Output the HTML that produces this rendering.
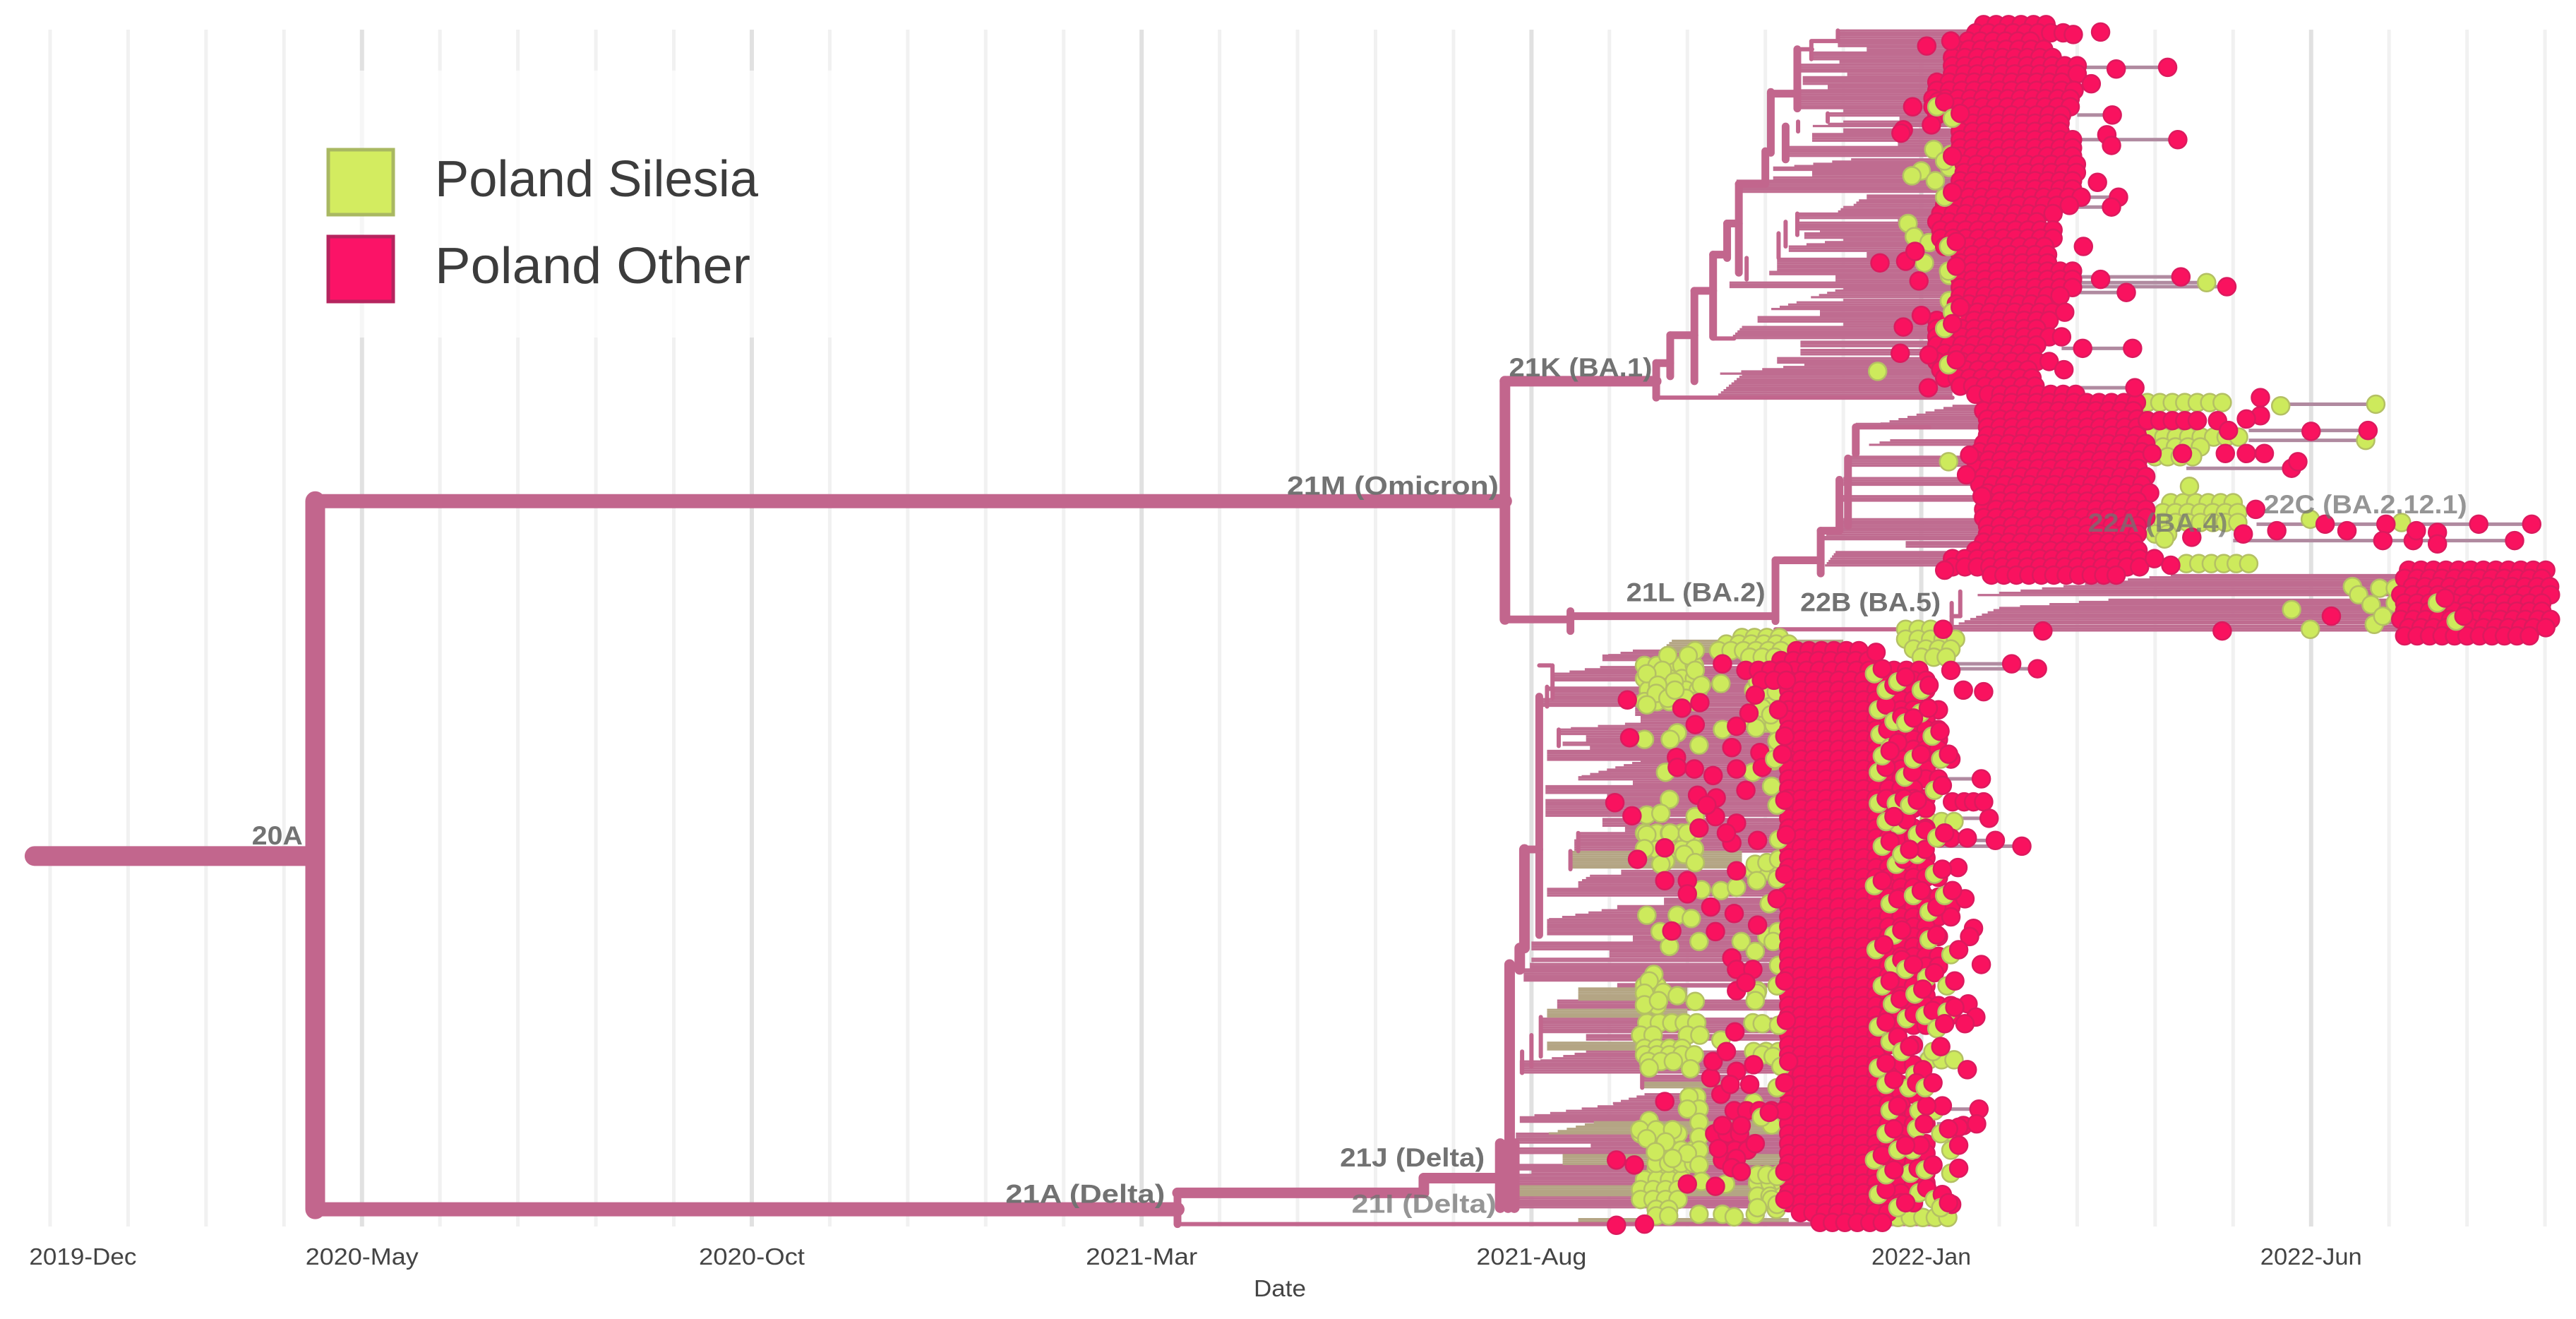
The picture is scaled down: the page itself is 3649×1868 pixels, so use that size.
<!DOCTYPE html>
<html lang="en">
<head>
<meta charset="utf-8">
<title>Time-scaled SARS-CoV-2 phylogeny, Poland</title>
<style>
html,body{margin:0;padding:0;background:#fff}
svg{display:block;font-family:"Liberation Sans",sans-serif}
</style>
</head>
<body>
<svg id="chart" xmlns="http://www.w3.org/2000/svg" width="3649" height="1868" viewBox="0 0 3649 1868"></svg>
<script>
// ---- Axis data: time is months since 2020-Jan, vertical position is tree rank ----
const gridMonths = [0,1,2,3,4,5,6,7,8,9,10,11,12,13,14,15,16,17,18,19,20,21,22,23,24,25,26,27,28,29,30,31,32];
const majorMonths = [4,9,14,19,24,29];
const tickMonths = [0.42,4,9,14,19,24,29];
const tickLabels = ["2019-Dec","2020-May","2020-Oct","2021-Mar","2021-Aug","2022-Jan","2022-Jun"];
const tickWidths = [152,160,150,158,156,141,144];

// ---- Branches: [tFrom, rankFrom, tTo, rankTo] ----
const heavyBranches = [[-0.2,521,3.4,521],[3.4,305,3.4,736]];
const majorBranches = [[3.4,305,18.66,305],[3.4,736,14.46,736]];
const midBranches = [
  [18.66,232,18.66,377],[18.66,232,20.6,232],[14.46,726,17.62,726],[17.62,717,17.62,726],[17.62,717,18.6,717],
  [18.91,517,18.91,577],[18.72,587,18.72,698],[18.85,577,18.85,590],
  [18.6,696,18.6,735],[18.78,696,18.78,735],[18.7,696,18.7,735]
];
const minorBranches = [
  [18.66,377,19.5,377],[19.5,372,19.5,384],[19.5,375,22.13,375],[22.13,341,22.13,378],[22.13,341,22.71,341],[22.71,323,22.71,349],
  [22.71,323,22.95,323],[22.95,292,22.95,323],[23.06,279,23.06,320],[23.16,260,23.16,276],
  [20.6,221,20.6,242],[20.6,221,20.78,221],[20.78,204,20.78,229],[20.78,204,21.09,204],[21.09,177,21.09,232],[21.09,177,21.33,177],
  [21.33,155,21.33,205],[21.33,155,21.51,155],[21.51,136,21.51,157],[21.51,136,21.66,136],[21.66,112,21.66,166],[21.66,112,22,112],
  [22,92,22,111],[22.07,56,22.07,93],[22.07,57,22.41,57],[22.41,30,22.41,66],[22.26,77,22.26,97],
  [19.1,424,19.1,569],[18.9,517,19.1,517],[14.46,726,14.46,745]
];
const twigBranches = [
  [14.46,745,24.2,745],[22.13,383,24.39,383],[24.39,367,24.39,385],[24.5,360,24.5,375],[24.39,375,24.5,375],
  [22.41,30,22.6,30],[22.59,25,22.59,36],[22.6,25,22.93,25],[22.93,18.6,22.93,25],[22.8,69,22.8,74],[22.42,74,22.42,80],
  [22.41,130,22.41,143],[22.26,135,22.26,150],[22.17,142,22.17,157],[21.76,157,21.76,170],[21.33,206,21.6,206],[20.6,242,24.4,242],
  [23.16,260,24.1,260],[19.1,405,19.25,405],[19.27,405,19.27,425],[19.12,619,19.12,643],[19,630,19,649],[18.88,640,18.88,653],
  [20.42,654,20.42,662],[19.2,418,19.2,430],[19.35,444,19.35,454],[19.6,507,19.6,518],[19.5,518,19.5,529]
];
const stubLines = [
  [41,26,27.16],[70,26,26.45],[85,26,27.29],[120,26,26.53],[126,26,26.44],[150,26,26.08],[168.5,25.9,27.33],[172,25.9,27.66],
  [174.5,25.9,27.92],[178,25.9,26.63],[212,25.8,26.71],[236,26,26.74],[246,28.61,29.83],[262,28.2,29.73],[268,28.2,29.7],
  [285,27.4,28.75],[319,28.3,31.83],[329,28,31.61],[404,24.4,25.16],[407,24.4,25.49],[474,24.3,24.77],[498,24.3,24.87],
  [511.5,24.2,24.95],[515,24.2,25.29],[675,24.2,24.74],[684,24.2,24.71]
];

// ---- Tip-line fans: [rankTop, rankBottom, tLeftAtTop, tLeftAtBottom, tRight] ----
const otherFans = [
  // 21K (BA.1)
  [18.6,28.7,22.93,22.93,24.7],[28.7,32,23.3,23.3,24.7],[32,36.5,22.6,22.6,24.7],[36.5,39.4,22.95,22.95,24.7],[39.4,43.7,22.45,22.45,24.7],[43.7,47,23.05,23.05,24.7],
  [47,52,22.48,22.48,24.5],[52,55,22.8,22.8,24.5],[55,66,22.41,22.41,24.5],[66,69,23,23,24.5],[69,71.6,22.8,22.8,24.5],[71.6,73.8,23.72,23.72,24.5],[74,78,23,22.42,24.5],
  [78.8,81.6,23,23,24.5],[81.6,86,22.6,22.6,24.5],[86,89.5,23.7,23.7,24.5],[89.5,96,22.3,22.25,24.5],[97,102,23.1,22.2,24.5],[102,104.6,22.1,22.1,24.5],[104.6,108,22.6,22.6,24.5],
  [108,110,22.1,22.1,24.5],[110,117.5,21.63,21.63,24.5],[119,122,23.3,23.3,24.5],[122,126,23.2,23.1,24.4],[126,130,23,22.9,24.4],[130,133,22.42,22.42,24.4],[134,135.5,23.7,23.7,24.4],
  [135.5,140,22.42,22.42,24.4],[140,142,22.7,22.7,24.4],[142,146,22.5,22.5,24.4],[146,150,23,22.3,24.4],[150,153,22.3,22.3,24.4],[154,157.5,23.3,23.3,24.4],[157.5,165,22.15,22.15,24.4],
  [165.5,167.5,22.05,22.05,24.4],[168,172,22.9,22.9,24.4],[172,175.5,21.54,21.54,24.4],[175.5,182,23,22.5,24.4],[182.5,184,23,23,24.4],[184,189,22.4,22,24.4],[189,193,22.7,22.7,24.4],
  [193,196,21.9,21.9,24.4],[196,199,23,23,24.4],[199,206,21.7,21.55,24.4],[208,212,22.45,22.45,24.4],[213,216,22.45,22.45,24.4],[218,221,22.15,22.15,24.4],[222,228,22.5,21.3,24.4],[228,242,21.7,21.35,24.4],
  // 21L (BA.2)
  [247,258,24.4,23.46,24.8],[258,262,23.16,23.16,24.8],[268,272,23.6,23.2,24.8],[278,284,23.06,23.06,24.8],[291,296,23,23,24.8],[302,305,22.95,22.95,24.8],
  [316,329,23,22.7,24.8],[330,333,23.8,23.8,24.8],[336,345,22.9,22.75,24.8],
  // 22B (BA.5)
  [350,363,27.2,24.55,30.16],[365,370,26.4,25,30.16],[370,380,25,24.45,30.16],[381,385,24.4,24.4,30.16],
  // Delta
  [396,399,20.3,19.95,22.3],[399,402.5,19.91,19.91,22.3],[402.5,405,20.4,20.4,22.3],[406,410,19.88,19.3,22.3],[410,415,19.27,19.27,22.3],[415,418.5,20.4,20.4,22.3],[418.5,421,19.2,19.2,22.3],
  [421,425.5,19.28,19.28,22.3],[425.5,430.5,19.06,19.06,22.3],[431,435.5,20.33,20.33,22.3],[435.5,440,20.4,20.4,22.3],[440.5,444,20.2,19.3,22.3],[444,447,19.35,19.35,22.3],[447,452,19.7,19.7,22.3],
  [452,454.5,19.4,19.4,22.3],[454.5,457,19.75,19.75,22.3],[457,463,19.2,19.2,22.3],[463,473,20.4,19.6,22.3],[473,474.5,19.6,19.6,22.3],[474.5,478.5,20.3,20.3,22.3],[478.5,483,19.18,19.18,22.3],
  [483,487,19.97,19.97,22.3],[487,497,19.18,19.18,22.3],[498.5,503,19.91,19.91,22.3],[503,507,20.2,20.2,22.3],[507,511.5,19.6,19.6,22.3],[511.5,518.5,19.55,19.55,22.3],
  [530,533,20.15,20.15,22.3],[533,537,19.75,19.6,22.3],[537,541,19.6,19.6,22.3],[541,546,19.2,19.2,22.3],[547,551.5,20.7,20.7,22.3],[551.5,554,20.1,20.1,22.3],[554,560,19.9,19.15,22.3],
  [560,564.5,19.2,19.2,22.3],[564.5,569.5,19.2,19.2,22.3],[570,573,20.3,20.3,22.3],[573.7,578,19,19,22.3],[578,583,20,20,22.3],[583.5,586,19,19,22.3],[586.7,589.5,18.98,18.98,22.3],
  [590,597,18.9,18.9,22.3],[599,601.6,20.1,20.1,22.3],[609,614.6,19.33,19.33,22.3],[620,629,19.1,19.1,22.3],[630,634,19.7,19.7,22.3],[640,646,19.7,19.05,22.3],[646,653,18.85,18.85,22.3],
  [654.7,659,20.42,20.42,21.6],[662.5,666,20.95,20.95,22.3],[666,672,20.45,20,22.3],[672,680,20.05,18.85,22.3],[680,683,18.85,18.85,22.3],[690,695.5,18.8,18.8,22.3],[695.5,699,19.76,19.76,22.3],
  [699,703,18.8,18.8,22.3],[709,712.7,18.8,18.8,22.3],[713,715,19,19,22.3],[715,722,18.8,18.8,22.3],[728,735,18.8,18.8,22.3]
];
const silesiaFans = [
  [390,398,20.8,20.6,23],[518.5,528.6,19.5,19.5,21.7],[601.6,609,19.6,19.6,21],[614.6,620,19.2,19.2,21],[634.6,640,19.2,19.2,21],[659,662,20.42,20.42,21.5],
  [683,690,19.8,19.2,22.3],[703,709,19.4,19.4,22.3],[722,728,18.8,18.8,22.3],[742,745,19.6,19.6,22.3]
];

// ---- Tips: dense stretches as [rank, tFrom, tTo], sparse tips as [t, rank] ----
const otherTipRows = [
  // 21K (BA.1)
  [15,24.8,25.7],[20,24.7,25.9],[25,24.6,25.5],[30,24.45,25.7],[35,24.4,25.8],[40,24.4,26],[45,24.4,26.05],[50,24.2,25.95],[55,24.2,26],[60,24.15,25.95],
  [65,24.15,26],[70,24.2,25.95],[75,24.5,25.85],[80,24.5,25.85],[85,24.5,26],[90,24.5,26],[95,24.5,26],[100,24.55,26.05],[105,24.55,26.05],[110,24.5,26.05],
  [115,24.5,26.05],[120,24.45,26.05],[125,24.3,26],[130,24.25,25.7],[135,24.2,25.6],[140,24.25,25.7],[145,24.25,25.7],[150,24.3,25.6],[155,24.5,25.75],[160,24.5,25.7],
  [165,24.5,25.95],[170,24.5,25.95],[175,24.5,25.95],[180,24.5,25.9],[185,24.45,25.6],[190,24.4,25.9],[195,24.2,25.7],[200,24.2,25.5],[205,24.2,25.8],[210,24.2,25.6],
  [215,24.3,25.45],[220,24.2,25.7],[225,24.25,25.4],[230,24.3,25.5],[235,24.5,25.6],[240,24.7,26],
  // 21L (BA.2)
  [245,25,26.88],[250,24.8,26.85],[255,24.85,26.9],[260,24.85,26.9],[265,24.85,26.88],[270,24.8,26.88],[275,24.75,26.88],[280,24.7,26.9],[285,24.7,26.85],[290,24.8,26.9],
  [295,24.75,26.9],[300,24.85,27.05],[305,24.85,26.9],[310,24.8,26.95],[315,24.8,27],[320,24.85,26.9],[325,24.85,26.85],[330,24.8,26.8],[335,24.7,26.85],[340,24.4,26.9],[345,24.4,26.85],[350,24.9,26.6],
  [256,26.9,27.6],
  // 22B (BA.5)
  [347,30.25,32.1],[352,30.2,32.1],[357,30.3,32.1],[362,30.15,32.1],[367,30.2,32.1],[372,30.2,32.1],[377,30.15,32.1],[382,30.25,32.05],[387,30.2,31.95],
  // Delta centre and right flank
  [396,22.4,23.3],[402,22.2,23.45],[408,22.05,24],[414,22.3,24.1],[420,22.3,24.2],[426,22.3,23.9],[432,22.3,24.3],[438,22.3,24.2],[444,22.3,24.3],[450,22.3,24.35],
  [456,22.3,24.35],[462,22.3,24.4],[468,22.3,24.2],[474,22.3,24.3],[480,22.3,23.95],[486,22.3,24.15],[492,22.3,24.2],[498,22.3,23.8],[504,22.3,24.1],[510,22.3,24.4],
  [516,22.3,23.7],[522,22.3,24.2],[528,22.3,24.1],[534,22.3,24.25],[540,22.3,23.95],[546,22.3,24.35],[552,22.3,24.4],[558,22.3,24.4],[564,22.3,24.15],[570,22.3,24.3],
  [576,22.3,24.15],[582,22.3,24.3],[588,22.3,24.35],[594,22.3,23.9],[600,22.3,24.1],[606,22.3,24.15],[612,22.3,24.5],[618,22.3,24.45],[624,22.3,24.1],[630,22.3,23.7],
  [636,22.3,24],[642,22.3,23.5],[648,22.3,24],[654,22.3,23.7],[660,22.3,24],[666,22.3,24.05],[672,22.3,23.8],[678,22.3,24.2],[684,22.3,24.1],[690,22.3,23.8],
  [696,22.3,24.15],[702,22.3,24.2],[708,22.3,23.9],[714,22.3,24.1],[720,22.3,24.1],[726,22.3,23.8],[732,22.3,24],[738,22.45,23.7],[744,22.7,23.6],
  // Delta middle-column runs
  [408,21.75,22.3],[414,21.95,22.3],[676,21.6,22.3],[690,21.35,21.75],[700,21.45,21.9],[706,21.45,21.75]
];
const otherTips = [
  // 21K (BA.1)
  [24.07,28],[24.38,25],[23.89,65],[23.77,79],[23.74,81],[24.22,61.6],[24.13,76],[23.47,160],[23.8,159],[23.92,153],[23.97,171],[24,192],[23.77,199],[23.73,215],[24.1,216],
  [26.3,19.5],[25.95,21],[27.16,41],[26.5,42],[26.18,51],[26.45,70],[26.38,82],[26.44,88.5],[27.29,85],[26.26,111],[26.53,120],[26.44,126],[26.08,150],[26.3,170],
  [27.33,168.5],[26.63,178],[27.92,174.5],[26.07,212],[26.71,212],[25.83,225],[26.74,236],[24.09,236],
  // 21L (BA.2)
  [28.35,242],[28.35,253],[27.8,256],[28.17,255],[27.94,262],[29,262.5],[29.73,262],[27.35,276],[27.9,276],[28.17,276],[28.4,276],[26.96,276],[28.75,285],[28.83,281],[28.29,310],
  [28.56,323],[29.18,319],[29.46,323],[29.96,319],[29.92,329],[30.31,329],[30.62,324],[30.35,323],[30.62,331],[31.15,319],[31.83,319],[31.61,329],[28.13,325],[27.47,327],[26.99,340],[27.2,344],
  [24.58,289],[24.62,277],[24.78,302],[24.3,347],
  // 22B (BA.5)
  [25.56,384],[27.86,384],[29.26,375],
  // Delta
  [20.23,426],[20.26,449],[20.07,488.5],[20.29,496.5],[20.71,516],[20.36,523],[21.1,441],[21.45,404],[21.16,427.6],[20.93,431],[20.86,461],[20.87,467],[21.09,468],[21.33,472],
  [21.63,442],[21.57,455],[21.63,468],[21.87,423],[21.79,434],[21.93,458],[21.96,467],[21.13,484],[21.37,485.6],[21.36,497],[21.75,481],[21.63,501],[21.15,504],[21.57,513],[21.9,511.5],
  [21.63,530],[20.71,536],[21,536],[21,544],[21.3,552],[21.6,556],[21.9,563],[20.8,566.6],[21.36,567],[21.57,583],[21.63,590],[21.84,590],[21.63,603],[21.75,598],[21.25,490],[21.5,507],
  [20.71,670.4],[21.43,666],[21.61,628],[21.3,656],[21.33,646],[21.63,652],[21.5,640],[21.85,648],[21.4,699],[21.63,705],[21.87,696],[21.57,710.6],[21.69,713],[21.45,685],[21.69,685],
  [20.09,706],[20.32,709],[20.09,745.7],[20.45,745],[21,720.6],[21.36,722],[21.55,660],[21.8,660],
  [23.42,397],[24.28,383],[25.16,404],[25.49,407],[24.38,408],[24.54,420],[24.8,421],[24.77,474],[24.4,488],[24.55,488],[24.67,488],[24.8,488],[24.87,498],[24.95,511.5],[25.29,515],
  [24.59,510],[24.47,528],[24.56,547],[24.67,565],[24.62,570],[24.77,587],[24.6,611],[24.7,619],[24.56,623],[24.59,651],[24.74,675],[24.54,685],[24.71,684],[24.39,733]
];
const silesiaTipRows = [
  [245,26.9,28],[266,26.95,28.2],[272,27.1,27.6],[278,27,27.6],[306,27.2,28.1],[312,27.1,28.1],[318,27.1,28.1],[325,27,27.3],[343,27.4,28.3],
  [388,21.7,22.3],[392,21.5,22.3],[396,21.4,22.3],[400,21.8,22.2],[383,23.8,24.4],[389,23.8,24.5],[395,23.9,24.4],[400,24,24.4],[500,24.1,24.5],[645,24.1,24.5],[741,23.7,24.35],
  [622.5,20.48,21.2],[630,20.4,20.7],[630,21,21.2],[638,20.45,21],[642,20.45,21.2],[646,20.5,20.9],[712,20.6,21],[718,20.45,21],[724,20.4,20.95],[730,20.4,20.95],[736,20.6,20.85],[740,20.6,20.85],
  [405,20.45,21.1],[413,20.45,21.2],[420,20.5,21.2],[427,20.45,21.1],[507,20.45,21.1],[517,20.45,21.15],[600,20.45,20.7],[612,20.45,20.7],[690,20.4,20.9],[700,20.6,21.2],[708,20.6,21.2],
  [420,21.85,22.2],[430,21.9,22.2],[440,21.85,22.2],[530,21.85,22.2],[640,21.85,22.2],[720,21.9,22.25],[728,21.9,22.25]
];
const silesiaTips = [
  // 21K, 21L, 22B outliers
  [24.16,91],[24,104],[23.88,107],[24.18,110],[24.44,69],[23.83,136],[23.91,144],[24.1,147.6],[24.04,160],[24.36,167.6],[24.36,183],[24.34,208],[23.44,226],[24.44,132],[24.38,94],[24.36,102],[27.66,172],
  [28.61,247],[29.83,246],[29.7,268],[27.44,296],[27.12,328],[28.99,316],[30.16,318],[24.35,281],
  [28.75,371],[28.99,383],[29.53,357],[29.61,362],[29.88,358],[30.08,358],[29.77,368],[30.08,367],[29.81,380],[29.92,375],
  // Delta, upper
  [20.75,399],[21.1,396],[21.01,399],[20.68,408],[20.48,410],[21.1,408],[20.83,415],[20.62,417],[21.18,417],[21.43,416],[20.6,422],[20.75,425],[20.98,425],[20.48,429],[20.84,420],
  [21.9,415],[22.14,421],[21.96,431],[22.11,441],[21.88,443],[21.45,444],[20.87,446],[20.78,450],[20.45,450],[21.15,453.5],[20.72,470],
  [20.77,486.5],[20.48,496],[20.66,495],[21.1,497],[20.48,508],[20.78,507],[21,507],[20.45,516.5],[21.09,516.5],[20.96,520],[20.72,524],[21.1,525],[20.66,526],[21.18,541.5],[21.43,542],[21.63,540],
  [21.87,526],[22.02,525],[22.17,523],[21.89,536],[22.11,463],[21.84,470],[22.08,478.5],[22.14,458.5],
  [20.48,557],[20.87,557],[21.05,559],[20.65,567],[20.77,576],[21.15,573],[21.69,573],[21.87,579],[22.02,570],[22.16,567],[22.17,587.5],[21.9,603],[22.1,573],
  // Delta, lower
  [20.57,593],[20.51,597],[20.69,604],[20.87,606],[21.1,609.5],[20.45,604.5],[20.45,611.5],[20.63,609],[20.51,650],[21.04,650.5],[21.43,633],[21.12,667.6],[21.02,667.6],[21.15,675],[21,675],
  [21.85,671],[22.05,677.6],[22.08,684.7],[21.84,622.5],[21.96,623],[21.89,604.5],[21.87,609],[21.96,642],[22.1,643],[20.51,682],[20.39,687.6],[20.6,687.6],[20.81,687.6],[20.48,693],[20.72,695],
  [21.15,683],[21.15,692],[21.15,700],[21,702],[20.59,701],[20.81,705],[21.15,709],[21.18,719],[21.49,720.6],[21.15,739],[21.45,739],[21.6,740.6],[21.87,739],[21.9,715],[22.02,715],[22.17,715],
  [22.08,730],[21.9,735],[22.14,736],[24.38,714],[24.2,626]
];
// tips of Silesia partly hidden behind a later Poland Other tip: [t, rank]
const partlyHiddenTips = [
  [23.45,432],[23.47,447],[23.65,439],[23.45,470],[23.79,473],[24.17,481],[23.45,489],[23.68,489],[24.14,448],[23.99,434],[23.71,502],[23.95,508],[23.68,526],[23.95,520],[24.17,532],
  [23.4,539],[23.65,569],[23.42,578],[23.65,587],[24.1,572],[24.38,581],[24.07,595],[24.33,600],[23.63,611],[23.92,605],[23.81,620],[24.05,618],[24.33,616],[24.2,626],[23.6,634],
  [23.92,654],[23.84,662],[24.17,676],[23.97,676],[23.6,676],[23.94,687],[24.38,689],[23.4,706],[23.89,700],[24.38,700],[23.86,714],[24.38,714],[23.45,727],[23.97,726],[24.17,730],
  [23.55,420],[23.8,440],[23.9,462],[23.6,455],[23.55,500],[23.85,490],[23.5,515],[23.6,550],[23.9,545],[24.1,555],[23.5,600],[23.8,590],[23.75,640],[23.55,660],[23.7,700],[23.55,715],[24.05,712],[23.7,735],
  [23.4,410],[23.7,415],[24,420],[23.5,460],[24.25,462],[23.75,520],[24.2,510],[24.3,545],[23.45,625],[24.15,640],[23.45,650],[24.05,662],[24.25,690],[23.55,690],[24.25,735],
  [22.07,435],[22.15,451],[22.12,462],[22.15,490],[22.17,511],[22.15,535],[22.05,550],[22.15,600],[22.17,624],[22.2,649],[22.15,662],[22.15,716],[21.95,680],[22.15,733],
  [30.62,367],[30.86,378],[24.2,65],[24.4,72],[24.3,98],[24.3,120],[24.35,150],[24.35,165],[24.4,190],[24.3,200],[24.35,222]
];

const cladeNames = ["20A","21M (Omicron)","21K (BA.1)","21L (BA.2)","22B (BA.5)","22A (BA.4)","22C (BA.2.12.1)","21A (Delta)","21J (Delta)","21I (Delta)"];
const cladeT = [3.24,18.58,20.55,22,24.25,27.93,31,14.3,18.4,18.55];
const cladeRank = [514,301,229,366,372,323.5,312.5,732,710,738];
const cladeWidth = [72,300,203,197,199,198,288,226,205,205];

const legendNames = ["Poland Silesia","Poland Other"];

// ---- Scales ----
const xOf = t => 71 + 110.44 * t;
const yOf = r => r * 2.327;
const tipStep = 0.16;
const fanStep = 1.35;

const svgNS = "http://www.w3.org/2000/svg";
const chart = document.getElementById("chart");

function make(tag, parent){
  const el = document.createElementNS(svgNS, tag);
  parent.appendChild(el);
  return el;
}
function layer(name){
  const g = make("g", chart);
  
  
  return g;
}
function segment(parent, x1, y1, x2, y2, color, width, cap, name){
  const l = make("line", parent);
  l.setAttribute("x1", x1); l.setAttribute("y1", y1); l.setAttribute("x2", x2); l.setAttribute("y2", y2);
  l.setAttribute("stroke", color); l.setAttribute("stroke-width", width); l.setAttribute("stroke-linecap", cap);
  
  
  return l;
}

// background
const bg = make("rect", chart);
bg.setAttribute("width", 3649); bg.setAttribute("height", 1868); bg.setAttribute("fill", "#fff");



// grid
const gridLayer = layer('x-gridlines');
gridMonths.forEach(m => {
  const major = majorMonths.includes(m);
  segment(gridLayer, xOf(m), 42, xOf(m), 1737, major ? "#e1e1e1" : "#f1f1f1", major ? 6 : 5, "butt", major ? 'major-gridline' : 'minor-gridline');
});

// legend panel (washes out the gridlines behind it)
const legendPanel = make("rect", chart);
legendPanel.setAttribute("x", 408); legendPanel.setAttribute("y", 100); legendPanel.setAttribute("width", 772); legendPanel.setAttribute("height", 378);
legendPanel.setAttribute("fill", "#fff"); legendPanel.setAttribute("fill-opacity", "0.7");



// tip-line fans
const fanLayer = layer('tip-line-fans');
function drawFans(list, color, name){
  list.forEach(f => {
    for (let r = f[0]; r <= f[1]; r += fanStep){
      const left = f[2] + (f[3] - f[2]) * (r - f[0]) / ((f[1] - f[0]) || 1);
      segment(fanLayer, xOf(left), yOf(r), xOf(f[4]), yOf(r), color, 3.2, "butt", name);
    }
  });
}
drawFans(otherFans, "#bf6c90", 'tip-line-other');
drawFans(silesiaFans, "#b4a584", 'tip-line-silesia');

// tree branches
const branchLayer = layer('tree-branches');
function drawBranches(list, width){
  list.forEach(b => segment(branchLayer, xOf(b[0]), yOf(b[1]), xOf(b[2]), yOf(b[3]), "#c2668d", width, "round", 'tree-branch'));
}
drawBranches(twigBranches, 6);
drawBranches(minorBranches, 11);
drawBranches(midBranches, 15);
drawBranches(majorBranches, 20);
drawBranches(heavyBranches, 28);
stubLines.forEach(s => segment(branchLayer, xOf(s[1]), yOf(s[0]), xOf(s[2]), yOf(s[0]), "#b08aa0", 5, "butt", 'outlier-branch'));

// tips
const tipLayer = layer('tree-tips');
function tip(t, r, fill, stroke, name){
  const c = make("circle", tipLayer);
  c.setAttribute("cx", xOf(t)); c.setAttribute("cy", yOf(r)); c.setAttribute("r", 12.5);
  c.setAttribute("fill", fill); c.setAttribute("stroke", stroke); c.setAttribute("stroke-width", 2.5);
  
  
  return c;
}
const silesiaFill = "#cdea5c", silesiaEdge = "#b4c064", otherFill = "#f9125f", otherEdge = "#dc1a5e";
function drawRows(rows, fill, edge, name){
  rows.forEach(row => {
    for (let t = row[1]; t <= row[2] + 0.001; t += tipStep) tip(t, row[0], fill, edge, name);
  });
}
drawRows(silesiaTipRows, silesiaFill, silesiaEdge, 'tip-poland-silesia');
silesiaTips.forEach(p => tip(p[0], p[1], silesiaFill, silesiaEdge, 'tip-poland-silesia'));
drawRows(otherTipRows, otherFill, otherEdge, 'tip-poland-other');
otherTips.forEach(p => tip(p[0], p[1], otherFill, otherEdge, 'tip-poland-other'));
partlyHiddenTips.forEach(p => {
  tip(p[0], p[1], silesiaFill, silesiaEdge, 'tip-poland-silesia');
  tip(p[0] + 0.1, p[1] - 3, otherFill, otherEdge, 'tip-poland-other');
});

// clade labels
const cladeLayer = layer('clade-labels');
cladeNames.forEach((n, i) => {
  const txt = make("text", cladeLayer);
  txt.textContent = n;
  txt.setAttribute("x", xOf(cladeT[i]));
  txt.setAttribute("y", yOf(cladeRank[i]));
  txt.setAttribute("text-anchor", "end");
  txt.setAttribute("font-size", 37);
  txt.setAttribute("font-weight", "bold");
  txt.setAttribute("fill", "#727272");
  txt.setAttribute("fill-opacity", i === 5 || i === 6 || i === 9 ? "0.75" : "1");
  txt.setAttribute("textLength", cladeWidth[i]);
  txt.setAttribute("lengthAdjust", "spacingAndGlyphs");
  
  
});

// x axis labels
const axisLayer = layer('x-axis');
tickLabels.forEach((lab, i) => {
  const txt = make("text", axisLayer);
  txt.textContent = lab;
  txt.setAttribute("x", xOf(tickMonths[i]));
  txt.setAttribute("y", 1791);
  txt.setAttribute("text-anchor", "middle");
  txt.setAttribute("font-size", 33);
  txt.setAttribute("fill", "#444");
  txt.setAttribute("textLength", tickWidths[i]);
  txt.setAttribute("lengthAdjust", "spacingAndGlyphs");
  
  
});
const axisTitle = make("text", axisLayer);
axisTitle.textContent = "Date";
axisTitle.setAttribute("x", 1813);
axisTitle.setAttribute("y", 1836);
axisTitle.setAttribute("text-anchor", "middle");
axisTitle.setAttribute("font-size", 33);
axisTitle.setAttribute("fill", "#444");
axisTitle.setAttribute("textLength", 74);
axisTitle.setAttribute("lengthAdjust", "spacingAndGlyphs");



// legend
const legendLayer = layer('legend');
const swatchFill = ["#d3ec60", "#fb1367"];
const swatchEdge = ["#a9b862", "#b5245e"];
const swatchY = [212, 335];
const legendBaseline = [278, 401];
const legendTextWidth = [458, 447];
legendNames.forEach((n, i) => {
  const sw = make("rect", legendLayer);
  sw.setAttribute("x", 465); sw.setAttribute("y", swatchY[i]); sw.setAttribute("width", 92); sw.setAttribute("height", 92);
  sw.setAttribute("fill", swatchFill[i]); sw.setAttribute("stroke", swatchEdge[i]); sw.setAttribute("stroke-width", 5);
  
  
  const txt = make("text", legendLayer);
  txt.textContent = n;
  txt.setAttribute("x", 616); txt.setAttribute("y", legendBaseline[i]);
  txt.setAttribute("font-size", 72); txt.setAttribute("fill", "#3c3c3c");
  txt.setAttribute("textLength", legendTextWidth[i]);
  txt.setAttribute("lengthAdjust", "spacingAndGlyphs");
  
  
});
</script>
</body>
</html>
